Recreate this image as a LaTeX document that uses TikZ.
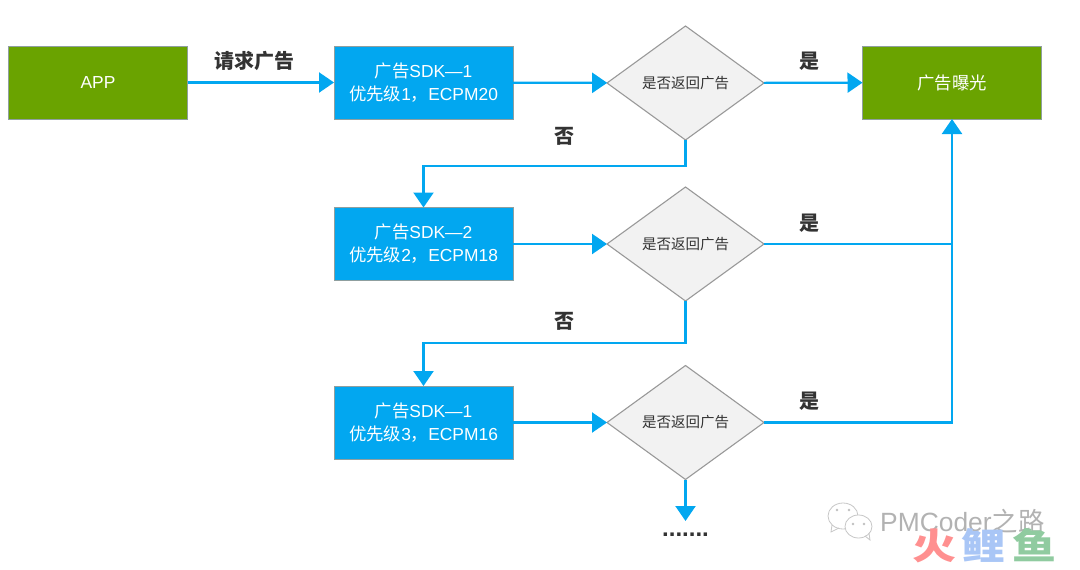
\documentclass[tikz,border=0pt]{standalone}
\usepackage{fontspec}
\setmainfont{Noto Sans CJK SC}
\newfontfamily\latf{Liberation Sans}
\usetikzlibrary{arrows.meta,shapes.geometric,positioning}
\definecolor{flowblue}{HTML}{02A7F0}
\definecolor{flowgreen}{HTML}{6AA300}
\definecolor{edgegrey}{HTML}{8F9F9F}
\definecolor{wmred}{HTML}{FF9090}
\definecolor{wmblue}{HTML}{A9C6F6}
\definecolor{wmgreen}{HTML}{90CBA0}
\tikzset{
  basebox/.style={rectangle,draw=edgegrey,line width=.9pt,outer sep=0pt,text=white,align=center,inner sep=0pt,minimum width=179pt,minimum height=73pt,font=\fontsize{17.4}{23}\selectfont},
  bluebox/.style={basebox,fill=flowblue},
  greenbox/.style={basebox,fill=flowgreen},
  decide/.style={diamond,draw=black!40,fill=black!5,line width=1.1pt,outer sep=0pt,aspect=1.37,inner sep=0pt,minimum width=157pt,minimum height=114pt,text=black!80,font=\fontsize{14.5}{16}\selectfont},
  link/.style={draw=flowblue,line width=2.2pt,-{Triangle[length=15pt,width=20pt]}},
  plainlink/.style={draw=flowblue,line width=2.2pt},
  lab/.style={inner sep=0pt,text=black!80,font=\fontsize{20}{22}\selectfont\bfseries},
  wmtext/.style={inner sep=0pt,font=\fontsize{44}{44}\selectfont\bfseries},
}
\begin{document}
\begin{tikzpicture}[x=1pt,y=-1pt]
\useasboundingbox (0,0) rectangle (1080,570);
\node[greenbox] (app) at (98,82.5) {\latf APP};
\node[bluebox] (s1) at (423.5,82.5) {广告{\latf SDK—1}\\优先级{\latf 1}，{\latf ECPM20}};
\node[decide] (d1) at (685.5,83) {是否返回广告};
\node[greenbox] (show) at (952,82.5) {广告曝光};
\node[bluebox] (s2) at (423.5,244) {广告{\latf SDK—2}\\优先级{\latf 2}，{\latf ECPM18}};
\node[decide] (d2) at (685.5,244) {是否返回广告};
\node[bluebox] (s3) at (423.5,422.5) {广告{\latf SDK—1}\\优先级{\latf 3}，{\latf ECPM16}};
\node[decide] (d3) at (685.5,422.5) {是否返回广告};
\coordinate (j12) at (d1.south |- 0,166);
\coordinate (j23) at (d2.south |- 0,343);
\coordinate (merge) at (952,244);
\coordinate (more) at (685.5,521);
\draw[link] (app) -- (s1);
\draw[link] (s1) -- (d1);
\draw[link] (d1) -- (show);
\draw[link] (d1.south) -- (j12) -| (s2.north);
\draw[link] (s2) -- (d2);
\draw[plainlink] (d2.east) -- (merge);
\draw[link] (d2.south) -- (j23) -| (s3.north);
\draw[link] (s3) -- (d3);
\draw[link] (d3.east) -| (show.south);
\draw[link] (d3.south) -- (more);
\node[lab] (l0) at (254,61) {请求广告};
\node[lab] (y1) at (809,61) {是};
\node[lab] (n1) at (564,136) {否};
\node[lab] (y2) at (809,223) {是};
\node[lab] (n2) at (564,321) {否};
\node[lab] (y3) at (809,401) {是};
\node[lab,font=\fontsize{24}{24}\selectfont\bfseries\latf] (dots) at (685.5,535) {.......};
% watermark
\draw[black!22,line width=.8pt,fill=white] (843,516) ellipse (15 and 13);
\draw[black!22,line width=.8pt] (832,525) -- (831,532) -- (839,528);
\draw[black!22,line width=.8pt,fill=white] (858.5,526.5) ellipse (13.5 and 11.5);
\draw[black!22,line width=.8pt] (865,536) -- (870,540) -- (869,533);
\fill[black!25] (837,510) circle (1.4) (849,510) circle (1.4) (853,524) circle (1.3) (864,524) circle (1.3);
\node[inner sep=0pt,anchor=west,text=black!30,font=\fontsize{26.4}{26}\selectfont] (wm) at (880,521) {{\latf PMCoder}之路};
\node[wmtext,text=wmred] (w1) at (934,545.5) {\scalebox{1}[.82]{火}};
\node[wmtext,text=wmblue] (w2) at (983.5,545.5) {\scalebox{1}[.82]{鲤}};
\node[wmtext,text=wmgreen] (w3) at (1034,545.5) {\scalebox{1}[.82]{鱼}};
\end{tikzpicture}
\end{document}
